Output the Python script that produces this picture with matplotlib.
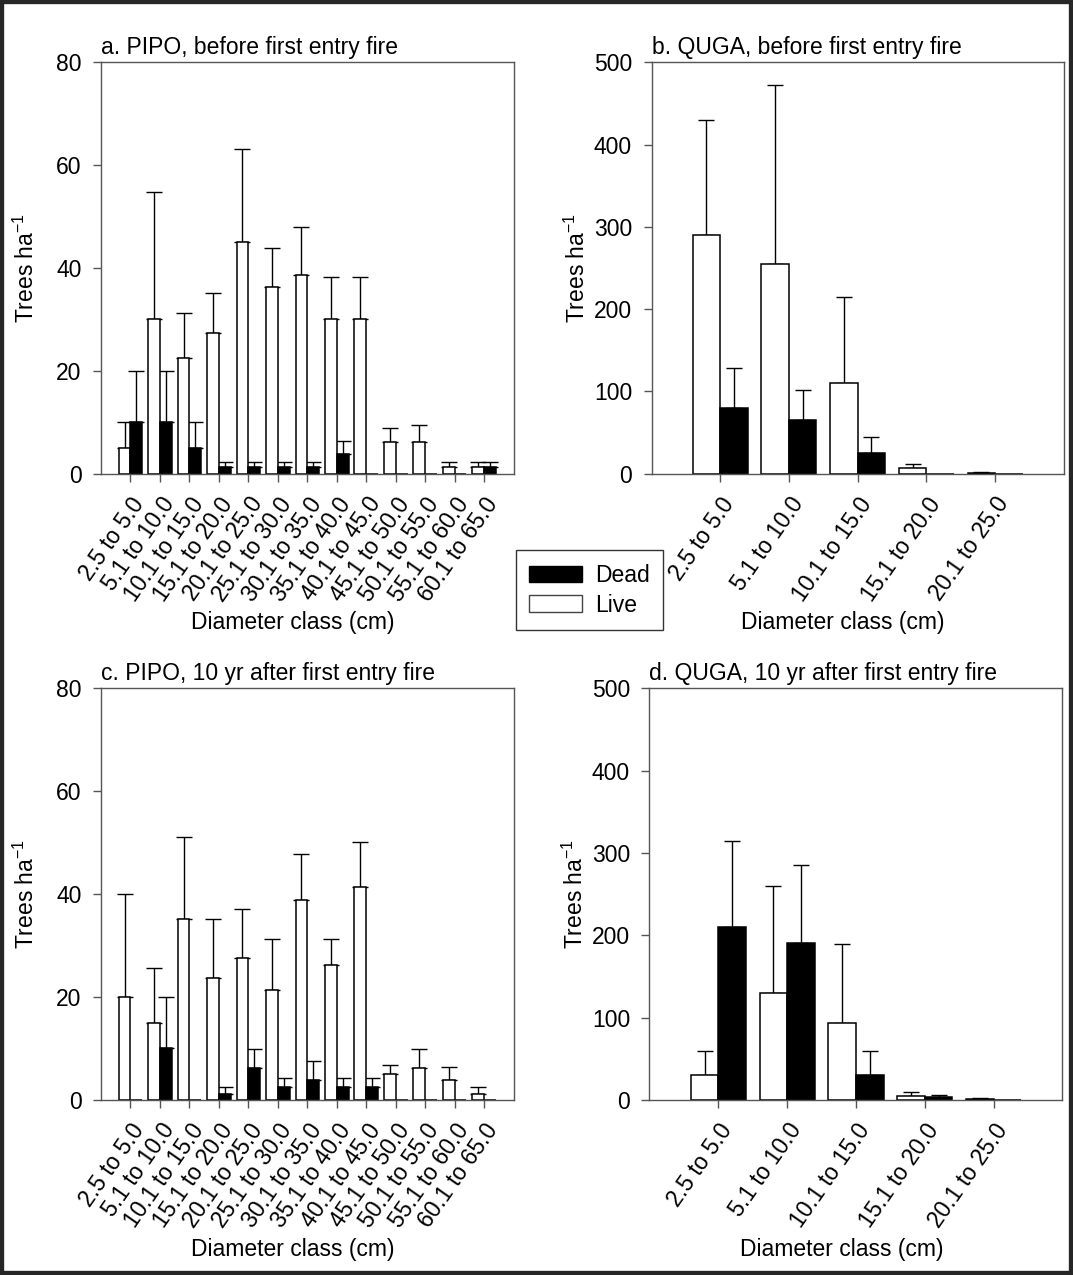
import numpy as np
import matplotlib.pyplot as plt
from matplotlib.patches import Patch, Rectangle
from matplotlib.transforms import ScaledTranslation

plt.rcParams['font.family'] = ['Liberation Sans', 'DejaVu Sans']
plt.rcParams['font.size'] = 16.5

# diameter classes
pipo_classes = ['2.5 to 5.0', '5.1 to 10.0', '10.1 to 15.0', '15.1 to 20.0',
                '20.1 to 25.0', '25.1 to 30.0', '30.1 to 35.0', '35.1 to 40.0',
                '40.1 to 45.0', '45.1 to 50.0', '50.1 to 55.0', '55.1 to 60.0',
                '60.1 to 65.0']
quga_classes = ['2.5 to 5.0', '5.1 to 10.0', '10.1 to 15.0', '15.1 to 20.0',
                '20.1 to 25.0']

# a. PIPO, before first entry fire (mean and SE, trees/ha)
pipo_pre_live = [5, 30, 22.4, 27.4, 45, 36.2, 38.6, 30, 30, 6.2, 6.2, 1.2, 1.2]
pipo_pre_live_se = [5, 24.8, 8.9, 7.7, 18.2, 7.7, 9.4, 8.2, 8.2, 2.7, 3.2, 1.1, 1.1]
pipo_pre_dead = [10, 10, 5, 1.2, 1.2, 1.2, 1.2, 3.75, 0, 0, 0, 0, 1.2]
pipo_pre_dead_se = [10, 10, 5, 1.1, 1.1, 1.1, 1.1, 2.55, 0, 0, 0, 0, 1.1]

# c. PIPO, 10 yr after first entry fire
pipo_post_live = [20, 15, 35.1, 23.7, 27.6, 21.3, 38.8, 26.3, 41.3, 5.0, 6.2, 3.8, 1.2]
pipo_post_live_se = [20, 10.6, 15.9, 11.5, 9.5, 9.9, 8.9, 5.0, 8.8, 1.8, 3.7, 2.6, 1.3]
pipo_post_dead = [0, 10, 0, 1.2, 6.2, 2.5, 3.8, 2.5, 2.5, 0, 0, 0, 0]
pipo_post_dead_se = [0, 10, 0, 1.3, 3.7, 1.7, 3.7, 1.7, 1.7, 0, 0, 0, 0]

# b. QUGA, before first entry fire
quga_pre_live = [290, 255, 110, 7.3, 1]
quga_pre_live_se = [140, 217, 105, 4.1, 1]
quga_pre_dead = [80, 65, 25, 0, 0]
quga_pre_dead_se = [48, 37, 20, 0, 0]

# d. QUGA, 10 yr after first entry fire
quga_post_live = [30, 130, 94, 5, 1.2]
quga_post_live_se = [30, 130, 95.5, 5, 0.8]
quga_post_dead = [210, 190, 30, 4, 0]
quga_post_dead_se = [104, 95, 30, 1.7, 0]

W = 0.4
AXIS_GREY = '#555555'

fig = plt.figure(figsize=(10.73, 12.75), dpi=100)


def draw_panel(ax, classes, live, live_se, dead, dead_se, ymax, ystep, title):
    x = np.arange(len(classes))
    live = np.array(live, dtype=float)
    dead = np.array(dead, dtype=float)
    live_se = np.array(live_se, dtype=float)
    dead_se = np.array(dead_se, dtype=float)

    ax.bar(x - W / 2, live, W, color='white', edgecolor='black', linewidth=1.1, zorder=2)
    ax.bar(x + W / 2, dead, W, color='black', edgecolor='black', linewidth=1.1, zorder=2)

    # upper error bars only
    for xs, vals, se in [(x - W / 2, live, live_se), (x + W / 2, dead, dead_se)]:
        m = se > 0
        ax.errorbar(xs[m], vals[m], yerr=[np.zeros(m.sum()), se[m]], fmt='none',
                    ecolor='black', elinewidth=1.0, capsize=6, capthick=1.0, zorder=1)

    ax.set_xlim(-1, len(classes))
    ax.set_ylim(0, ymax)
    ax.set_yticks(np.arange(0, ymax + 1, ystep))
    ax.set_xticks(x)
    ax.set_xticklabels(classes, rotation=55, ha='right', va='top',
                       rotation_mode='anchor')
    # nudge rotated labels to the right like the original
    shift = ScaledTranslation(6 / 72, 0, fig.dpi_scale_trans)
    for lab in ax.get_xticklabels():
        lab.set_transform(lab.get_transform() + shift)
    ax.tick_params(direction='out', length=6, width=1, color=AXIS_GREY)
    ax.tick_params(axis='x', pad=8)
    ax.tick_params(axis='y', pad=8)
    for s in ax.spines.values():
        s.set_color(AXIS_GREY)
        s.set_linewidth(1.0)

    ax.set_title(title, loc='left', pad=6, fontsize=16.5)
    ax.set_xlabel('Diameter class (cm)')
    ax.xaxis.set_label_coords(0.465, -0.335)
    ax.set_ylabel(r'Trees ha$^{\mathregular{-1}}$')
    ax.yaxis.set_label_coords(-0.15, 0.5)


ax_a = fig.add_axes([0.0941, 0.6285, 0.3846, 0.3227])
ax_b = fig.add_axes([0.6072, 0.6285, 0.3842, 0.3227])
ax_c = fig.add_axes([0.0941, 0.1373, 0.3846, 0.3229])
ax_d = fig.add_axes([0.6053, 0.1373, 0.3849, 0.3229])

draw_panel(ax_a, pipo_classes, pipo_pre_live, pipo_pre_live_se, pipo_pre_dead,
           pipo_pre_dead_se, 80, 20, 'a. PIPO, before first entry fire')
draw_panel(ax_b, quga_classes, quga_pre_live, quga_pre_live_se, quga_pre_dead,
           quga_pre_dead_se, 500, 100, 'b. QUGA, before first entry fire')
draw_panel(ax_c, pipo_classes, pipo_post_live, pipo_post_live_se, pipo_post_dead,
           pipo_post_dead_se, 80, 20, 'c. PIPO, 10 yr after first entry fire')
draw_panel(ax_d, quga_classes, quga_post_live, quga_post_live_se, quga_post_dead,
           quga_post_dead_se, 500, 100, 'd. QUGA, 10 yr after first entry fire')

# shared legend between the panels
handles = [Patch(facecolor='black', edgecolor='black', label='Dead'),
           Patch(facecolor='white', edgecolor='#444444', label='Live')]
leg = fig.legend(handles=handles, loc='center', bbox_to_anchor=(0.5494, 0.5372),
                 fancybox=False, edgecolor='#333333', framealpha=1,
                 handlelength=2.3, handleheight=0.7, borderpad=0.6,
                 labelspacing=0.3, handletextpad=0.55)
leg.get_frame().set_linewidth(1.0)

# dark frame around the figure
fig.patches.append(Rectangle((0, 0), 1, 1, transform=fig.transFigure, fill=False,
                             edgecolor='#262626', linewidth=6))

fig.savefig('out.png', dpi=100)
